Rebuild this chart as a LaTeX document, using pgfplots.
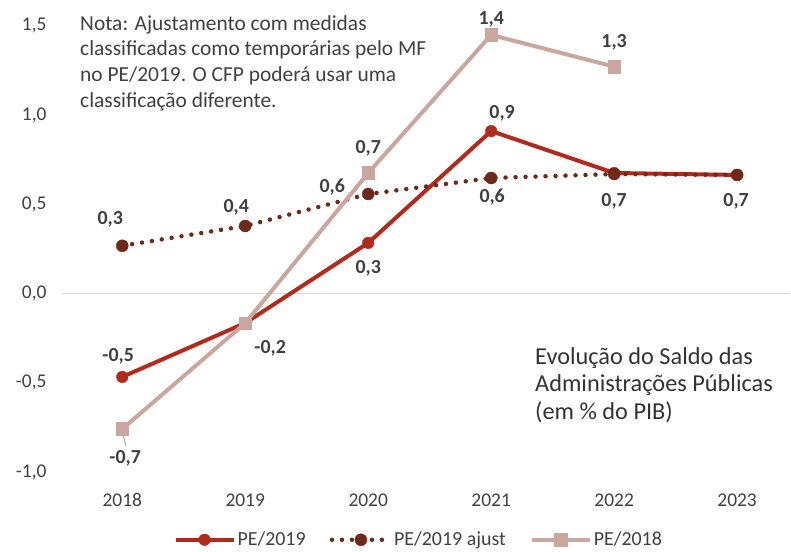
\documentclass[border=0pt]{standalone}
\usepackage{pgfplots}
\pgfplotsset{compat=1.18}
\usepackage{fontspec}
\setmainfont{Carlito}
\definecolor{cRed}{HTML}{B22A1C}
\definecolor{cDark}{HTML}{6E2918}
\definecolor{cLight}{HTML}{C9A79E}
\definecolor{cTxt}{HTML}{404040}
\definecolor{cZero}{HTML}{D9D9D9}
\tikzset{lbl/.style={font=\bfseries\fontsize{20}{22}\selectfont, text=cTxt}}
\begin{document}
\begin{tikzpicture}[x=1bp,y=1bp]
\useasboundingbox (0,0) rectangle (791,552);
\begin{axis}[
  at={(62bp,80bp)}, anchor=south west, scale only axis,
  width=728bp, height=446bp,
  xmin=-0.49, xmax=5.43, ymin=-1, ymax=1.5,
  axis line style={draw=none}, tick style={draw=none},
  xtick={0,1,2,3,4,5},
  xticklabels={2018,2019,2020,2021,2022,2023},
  ytick={-1,-0.5,0,0.5,1,1.5},
  yticklabel shift=12bp,
  xticklabel shift=18bp,
  tick label style={font=\fontsize{19.5}{22}\selectfont, text=cTxt},
  yticklabel style={/pgf/number format/.cd, use comma, fixed, fixed zerofill, precision=1, assume math mode=true},
  clip=false,
  legend columns=3,
  legend style={at={(0.49,-0.152)}, anchor=center, draw=none, fill=none,
    inner sep=1bp, font=\fontsize{20}{21}\selectfont, text=cTxt,
    /tikz/every even column/.append style={column sep=22bp}},
  legend image code/.code={
    \draw[mark repeat=2,mark phase=2,#1] plot coordinates {(0bp,0bp) (29bp,0bp) (58bp,0bp)};
  },
]
\draw[cZero, line width=1.6bp] (axis cs:-0.49,0) -- (axis cs:5.43,0);
\addplot[cRed, line width=4bp, mark=*, mark size=5.8bp, mark options={solid, line width=0.4bp}] coordinates {
  (0,-0.467) (1,-0.165) (2,0.284) (3,0.911) (4,0.676) (5,0.665)};
\addlegendentry{PE/2019}
\addplot[cDark, line width=4.5bp, line cap=round, dash pattern=on 0bp off 10bp, mark=*, mark size=6bp, mark options={solid, line width=0.4bp}] coordinates {
  (0,0.268) (1,0.379) (2,0.558) (3,0.648) (4,0.670) (5,0.665)};
\addlegendentry{PE/2019 ajust}
\addplot[cLight, line width=4bp, mark=square*, mark size=6.3bp, mark options={solid, line width=0.4bp}] coordinates {
  (0,-0.759) (1,-0.165) (2,0.676) (3,1.450) (4,1.272)};
\addlegendentry{PE/2018}
\draw[gray!70, line width=1bp] (axis cs:0.01,-0.80) -- (axis cs:0.03,-0.855);
\node[lbl] at (axis cs:-0.098,0.418) {0,3};
\node[lbl] at (axis cs:0.927,0.485) {0,4};
\node[lbl] at (axis cs:1.707,0.598) {0,6};
\node[lbl] at (axis cs:2.0,0.816) {0,7};
\node[lbl] at (axis cs:3.0,1.539) {1,4};
\node[lbl] at (axis cs:3.089,1.012) {0,9};
\node[lbl] at (axis cs:3.008,0.541) {0,6};
\node[lbl] at (axis cs:4.0,1.41) {1,3};
\node[lbl] at (axis cs:4.0,0.519) {0,7};
\node[lbl] at (axis cs:4.992,0.519) {0,7};
\node[lbl] at (axis cs:-0.033,-0.350) {-0,5};
\node[lbl] at (axis cs:0.024,-0.921) {-0,7};
\node[lbl] at (axis cs:1.203,-0.305) {-0,2};
\node[lbl] at (axis cs:2.0,0.143) {0,3};
\end{axis}
\node[anchor=north west, align=left, inner sep=0pt, text=cTxt,
  font=\fontsize{21.5}{25.8}\selectfont] at (80,537)
  {Nota: Ajustamento com medidas\\classificadas como temporárias pelo MF\\no PE/2019. O CFP poderá usar uma\\classificação diferente.};
\node[anchor=north west, align=left, inner sep=0pt, text=cTxt!80!black,
  font=\fontsize{24.4}{27.8}\selectfont] at (535,205)
  {Evolução do Saldo das\\Administrações Públicas\\(em \% do PIB)};
\end{tikzpicture}
\end{document}
